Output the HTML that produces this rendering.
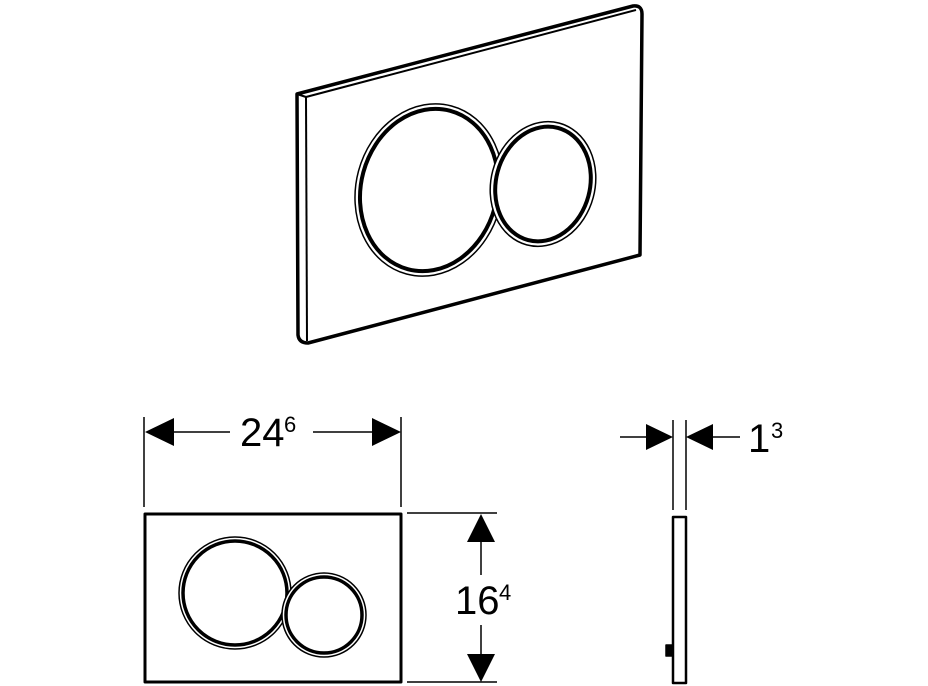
<!DOCTYPE html>
<html><head><style>html,body{margin:0;padding:0;background:#fff}svg{display:block}</style></head>
<body>
<svg width="928" height="686" viewBox="0 0 928 686" xmlns="http://www.w3.org/2000/svg">
<g fill="none" stroke="#000" stroke-linejoin="round">
<!-- iso panel -->
<path d="M297,94 L633,6 Q642,5 642,14 L640,255 L308,343 Q299,343 298,335 Z" stroke-width="3.5"/>
<path d="M297,94 L306,97 L636,10" stroke-width="2"/>
<path d="M306,97 L307,341" stroke-width="2"/>
<g transform="rotate(15 429 190)">
<ellipse cx="429" cy="190" rx="73" ry="87" stroke-width="1.5"/>
<ellipse cx="429" cy="190" rx="68" ry="82" stroke-width="4"/>
</g>
<g transform="rotate(15 543 184)">
<ellipse cx="543" cy="184" rx="52" ry="63" stroke-width="1.5" fill="#fff"/>
<ellipse cx="543" cy="184" rx="47" ry="58" stroke-width="4"/>
</g>
<!-- front view -->
<rect x="145" y="514" width="256" height="168" stroke-width="3"/>
<circle cx="235" cy="593" r="56" stroke-width="1.5"/>
<circle cx="235" cy="593" r="52" stroke-width="3.5"/>
<circle cx="324" cy="615" r="42" stroke-width="1.5" fill="#fff"/>
<circle cx="324" cy="615" r="38" stroke-width="3.5"/>
<!-- width dim -->
<path d="M144,417 V507 M401,417 V507 M173,432 H230 M313,432 H373" stroke-width="1.5"/>
<!-- height dim -->
<path d="M407,513 H497 M407,682 H497 M481,541 V575 M481,625 V655" stroke-width="1.5"/>
<!-- side dim -->
<path d="M673,420 V510 M686,420 V510 M620,437 H648 M712,437 H740" stroke-width="1.5"/>
<path d="M673,517 H686 V683 H673 Z" stroke-width="2.5"/>
<path d="M666,645 H673 V656 H666 Z" stroke-width="1.5" fill="#000"/>
</g>
<g fill="#000">
<polygon points="145,432 174,418 174,446"/>
<polygon points="401,432 372,418 372,446"/>
<polygon points="481,514 467,542 495,542"/>
<polygon points="481,682 467,654 495,654"/>
<polygon points="673,437 646,424 646,450"/>
<polygon points="686,437 713,424 713,450"/>
</g>
<g font-family="Liberation Sans, sans-serif" fill="#000">
<text x="240" y="446" font-size="40">24</text><text x="284" y="432" font-size="22">6</text>
<text x="455" y="614" font-size="40">16</text><text x="499" y="600" font-size="22">4</text>
<text x="748" y="452" font-size="40">1</text><text x="771" y="438" font-size="22">3</text>
</g>
</svg>
</body></html>
